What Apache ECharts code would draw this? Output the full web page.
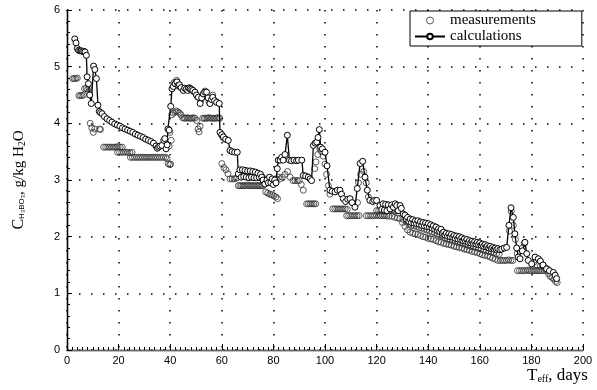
<!DOCTYPE html>
<html><head><meta charset="utf-8">
<script src="https://cdn.jsdelivr.net/npm/echarts@6/dist/echarts.min.js"></script>
<style>html,body{margin:0;padding:0;background:#fff}#c{width:597px;height:390px}</style>
</head><body><div id="c"></div>
<script>
const xTicks = [0, 20, 40, 60, 80, 100, 120, 140, 160, 180, 200];
const yTicks = [0, 1, 2, 3, 4, 5, 6];
const seriesNames = ['measurements', 'calculations'];

// calculations: [day, g/kg]
const calculations = [
[3.0,5.49],[3.5,5.42],[4.0,5.32],[4.5,5.29],[5.0,5.28],[5.5,5.28],[6.0,5.27],[6.5,5.27],[7.0,5.26],[7.5,5.20],
[7.8,4.82],[8.3,4.70],[8.8,4.50],[9.4,4.35],[10.3,5.01],[10.8,4.95],[11.4,4.79],[12.0,4.32],[12.5,4.21],[13.0,4.19],
[13.6,4.17],[14.5,4.12],[15.5,4.08],[16.5,4.05],[17.4,4.02],[18.5,3.99],[19.5,3.97],[20.5,3.95],[21.5,3.92],[22.5,3.90],
[23.5,3.88],[24.5,3.86],[25.5,3.84],[26.5,3.81],[27.5,3.79],[28.5,3.77],[29.5,3.75],[30.5,3.72],[31.5,3.70],[32.5,3.68],
[33.5,3.65],[34.5,3.60],[35.0,3.56],[35.5,3.58],[36.0,3.60],[36.8,3.61],[37.5,3.70],[37.9,3.73],[38.4,3.55],[38.8,3.62],
[39.1,3.90],[39.6,3.88],[40.2,4.30],[40.7,4.61],[41.2,4.65],[41.9,4.70],[42.6,4.73],[43.1,4.67],[43.6,4.68],[44.2,4.63],
[45.1,4.58],[45.6,4.62],[46.2,4.60],[46.8,4.58],[47.2,4.62],[47.7,4.61],[48.3,4.60],[48.8,4.58],[49.6,4.55],[50.2,4.50],
[50.9,4.46],[51.6,4.35],[52.2,4.45],[52.8,4.52],[53.4,4.55],[54.1,4.55],[54.7,4.45],[55.4,4.35],[56.0,4.42],[56.5,4.46],
[57.2,4.40],[58.0,4.37],[59.0,4.35],[59.3,3.84],[60.0,3.80],[60.6,3.76],[61.5,3.72],[62.5,3.70],[63.2,3.52],[64.0,3.50],
[65.0,3.49],[66.0,3.49],[66.4,3.11],[67.0,3.18],[67.5,3.05],[68.0,3.18],[68.5,3.06],[69.0,3.17],[69.5,3.05],[70.0,3.16],
[70.5,3.04],[71.0,3.16],[71.5,3.05],[72.0,3.15],[72.5,3.04],[73.0,3.14],[73.5,3.04],[74.0,3.12],[74.5,3.05],[75.0,3.10],
[75.5,3.05],[76.0,3.00],[76.7,2.93],[77.5,3.00],[78.0,2.95],[78.5,3.05],[79.0,2.95],[79.5,3.02],[80.0,2.92],[80.5,3.00],
[81.0,2.95],[81.5,3.20],[81.9,3.35],[82.6,3.35],[83.2,3.40],[83.8,3.35],[84.5,3.45],[85.4,3.79],[86.2,3.35],[87.0,3.34],
[88.0,3.35],[89.0,3.34],[89.7,3.35],[91.0,3.35],[91.6,3.08],[92.5,3.07],[93.5,3.05],[94.2,3.02],[94.8,2.99],[95.5,3.61],
[96.2,3.65],[96.8,3.67],[97.3,3.75],[97.8,3.89],[98.3,3.58],[99.0,3.55],[100.0,3.49],[100.8,3.25],[101.9,2.82],[102.8,2.80],
[103.9,2.79],[104.8,2.82],[105.8,2.82],[106.4,2.75],[107.1,2.67],[108.0,2.62],[108.8,2.66],[109.7,2.67],[110.5,2.60],[111.6,2.52],
[112.5,2.85],[113.6,3.29],[114.6,3.33],[115.5,3.05],[116.4,2.82],[117.4,2.64],[118.5,2.62],[119.2,2.64],[120.0,2.64],[121.3,2.55],
[122.0,2.48],[122.5,2.58],[123.0,2.47],[123.5,2.57],[124.0,2.46],[124.5,2.56],[125.2,2.49],[125.8,2.56],[126.5,2.52],[127.2,2.58],
[127.8,2.55],[128.4,2.46],[129.1,2.55],[129.6,2.50],[130.3,2.40],[131.0,2.38],[131.5,2.31],[132.0,2.34],[132.5,2.27],[133.0,2.31],
[133.5,2.25],[134.0,2.30],[134.5,2.24],[135.0,2.28],[135.5,2.23],[136.0,2.28],[136.5,2.22],[137.0,2.26],[137.5,2.20],[138.0,2.25],
[138.5,2.19],[139.0,2.24],[139.5,2.18],[140.0,2.23],[140.5,2.17],[141.0,2.21],[141.5,2.15],[142.0,2.19],[142.5,2.13],[143.0,2.17],
[143.5,2.11],[144.0,2.14],[144.5,2.09],[145.0,2.13],[145.5,2.06],[146.0,2.08],[146.5,2.03],[147.0,2.06],[147.5,2.01],[148.0,2.05],
[148.5,2.00],[149.0,2.04],[149.5,1.99],[150.0,2.02],[150.5,1.97],[151.0,2.01],[151.5,1.96],[152.0,2.00],[152.5,1.95],[153.0,1.98],
[153.5,1.93],[154.0,1.96],[154.5,1.92],[155.0,1.95],[155.5,1.90],[156.0,1.93],[156.5,1.89],[157.0,1.92],[157.5,1.88],[158.0,1.91],
[158.5,1.87],[159.0,1.90],[159.5,1.86],[160.0,1.89],[160.5,1.85],[161.0,1.87],[161.5,1.83],[162.0,1.86],[162.5,1.82],[163.0,1.84],
[163.5,1.80],[164.0,1.83],[164.5,1.79],[165.0,1.81],[165.5,1.78],[166.0,1.80],[166.5,1.77],[167.0,1.79],[167.8,1.77],[168.5,1.78],
[169.5,1.80],[170.4,1.81],[171.3,2.20],[172.1,2.51],[173.0,2.34],[173.6,2.05],[174.3,1.80],[174.9,1.64],[175.6,1.61],[176.5,1.75],
[177.5,1.90],[178.2,1.70],[178.8,1.58],[180.1,1.52],[181.4,1.64],[182.7,1.61],[183.5,1.57],[184.5,1.50],[185.9,1.43],[187.0,1.40],
[188.5,1.37],[189.2,1.32],[189.8,1.26]
];

// measurements: [day, g/kg]
const measurements = [
[2.2,4.79],[2.8,4.79],[3.4,4.79],[4.0,4.80],[4.6,4.49],[5.2,4.49],[5.8,4.49],[6.4,4.50],[6.8,4.61],[7.4,4.62],[8.0,4.60],[8.6,4.61],
[9.0,4.00],[9.6,3.92],[10.2,3.84],[10.8,3.90],[12.6,3.90],[13.0,3.89],
[14.2,3.58],[15.0,3.58],[15.8,3.58],[16.6,3.58],[17.4,3.58],[18.2,3.58],[19.0,3.58],[19.8,3.59],[20.6,3.58],[21.4,3.58],
[19.6,3.49],[20.4,3.49],[21.2,3.49],[22.0,3.49],[22.8,3.49],[23.6,3.49],[24.4,3.48],[25.2,3.49],
[24.6,3.40],[25.4,3.40],[26.2,3.40],[27.0,3.40],[27.8,3.40],[28.6,3.40],[29.4,3.40],[30.2,3.40],[31.0,3.40],[31.8,3.40],
[32.6,3.40],[33.4,3.40],[34.2,3.40],[35.0,3.40],[35.8,3.40],[36.6,3.40],[37.4,3.40],[38.2,3.40],[38.8,3.38],
[39.2,3.29],[39.8,3.27],[40.2,3.28],[40.4,3.70],[39.6,3.60],[39.9,3.84],
[40.6,4.15],[41.2,4.18],[41.8,4.20],[42.4,4.22],[43.0,4.20],[43.6,4.18],[44.2,4.15],[44.8,4.10],[45.4,4.09],[46.0,4.09],
[46.6,4.10],[47.2,4.09],[47.8,4.09],[48.4,4.09],[49.0,4.10],[49.6,4.09],[50.2,4.05],[50.8,3.90],[51.2,3.85],[51.6,3.95],
[52.6,4.09],[53.2,4.09],[53.8,4.09],[54.4,4.09],[55.0,4.10],[55.6,4.09],[56.2,4.09],[56.8,4.09],[57.4,4.09],[58.0,4.09],
[58.6,4.10],[59.2,4.09],
[41.5,4.72],[42.5,4.76],[43.5,4.65],[44.5,4.62],[46.0,4.61],[47.5,4.63],[49.0,4.56],[50.5,4.47],[51.8,4.40],[53.5,4.57],
[55.0,4.38],[56.5,4.50],[58.0,4.38],
[59.8,3.80],[60.5,3.75],[61.3,3.72],[60.0,3.29],[60.8,3.22],[61.6,3.18],[62.4,3.11],[63.2,3.02],[64.0,3.02],[64.8,3.02],[65.6,3.03],
[66.4,2.90],[67.0,2.90],[67.6,2.90],[68.2,2.90],[68.8,2.90],[69.4,2.90],[70.0,2.91],[70.6,2.90],[71.2,2.90],[71.8,2.90],
[72.4,2.90],[73.0,2.90],[73.6,2.90],[74.2,2.90],[74.8,2.90],[75.4,2.90],[76.0,2.90],
[66.8,3.10],[67.8,3.12],[68.8,3.10],[69.8,3.12],[70.8,3.10],[71.8,3.12],[72.8,3.10],[73.8,3.08],[74.8,3.10],[75.8,3.05],
[77.0,2.79],[77.8,2.77],[78.6,2.75],[79.4,2.74],[80.2,2.72],[81.0,2.70],[81.6,2.67],
[79.0,3.00],[80.0,2.98],[81.0,3.02],[82.0,3.05],
[82.6,3.02],[83.5,3.05],[84.5,3.10],[85.5,3.15],[86.5,3.05],[87.6,2.99],[88.4,2.99],[89.2,2.99],[90.0,2.99],[90.8,2.92],[91.6,2.82],
[92.9,2.58],[93.6,2.58],[94.3,2.58],[95.0,2.58],[95.7,2.58],[96.4,2.58],
[96.0,3.20],[96.5,3.32],[97.2,3.45],[98.0,3.55],[98.6,3.50],[99.3,3.42],[100.0,3.28],[100.6,3.10],[101.3,2.90],[101.9,2.75],
[103.0,2.49],[103.8,2.49],[104.6,2.49],[105.4,2.49],[106.2,2.49],[107.0,2.49],[107.8,2.49],[108.6,2.48],
[108.4,2.37],[109.2,2.37],[110.0,2.37],[110.8,2.37],[111.6,2.37],[112.4,2.37],[113.2,2.37],
[112.6,2.60],[113.0,2.95],[113.8,3.10],[115.0,3.15],[116.0,2.95],[116.8,2.70],
[116.0,2.37],[116.8,2.37],[117.6,2.37],[118.4,2.37],[119.2,2.37],[120.0,2.38],[120.8,2.37],[121.6,2.37],[122.4,2.37],
[123.2,2.37],[124.0,2.37],[124.8,2.36],
[120.0,2.46],[120.8,2.46],[121.6,2.46],[122.4,2.46],[123.2,2.46],[124.0,2.46],[124.8,2.46],[125.6,2.46],[126.4,2.46],
[127.2,2.45],[128.0,2.46],
[126.0,2.36],[127.0,2.34],[128.0,2.33],[129.0,2.32],[130.0,2.25],[131.0,2.18],[132.0,2.12],[133.0,2.08],[134.0,2.06],
[135.0,2.05],[136.0,2.04],[137.0,2.02],[138.0,2.00],[139.0,1.99],[140.0,1.97],[141.0,1.96],[142.0,1.95],[143.0,1.93],
[144.0,1.91],[145.0,1.90],[146.0,1.88],[147.0,1.87],[148.0,1.86],[149.0,1.85],[150.0,1.83],[151.0,1.82],[152.0,1.81],
[153.0,1.80],[154.0,1.78],[155.0,1.77],[156.0,1.76],[157.0,1.74],[158.0,1.73],[159.0,1.72],[160.0,1.70],[161.0,1.68],
[162.0,1.67],[163.0,1.66],[164.0,1.64],[165.0,1.62],[166.0,1.60],[167.0,1.58],
[130.5,2.30],[131.5,2.26],[132.5,2.22],[133.5,2.20],[134.5,2.19],[135.5,2.18],[136.5,2.16],[137.5,2.15],[138.5,2.13],
[139.5,2.12],[140.5,2.10],[141.5,2.08],[142.5,2.07],[143.5,2.05],[144.5,2.03],[145.5,2.01],[146.5,1.98],[147.5,1.96],
[148.5,1.95],[149.5,1.93],[150.5,1.92],[151.5,1.91],[152.5,1.89],[153.5,1.88],[154.5,1.86],[155.5,1.85],[156.5,1.83],
[157.5,1.82],[158.5,1.81],[159.5,1.79],[160.5,1.78],[161.5,1.77],[162.5,1.75],[163.5,1.74],[164.5,1.73],[165.5,1.72],
[166.5,1.70],[167.5,1.69],
[168.0,1.58],[168.8,1.58],[169.6,1.58],[170.4,1.58],[171.2,1.59],[172.0,1.58],[172.8,1.58],
[171.5,2.10],[172.2,2.45],[173.0,2.20],[173.8,1.95],[174.5,1.70],
[174.6,1.40],[175.4,1.40],[176.2,1.40],[177.0,1.40],[177.8,1.40],[178.6,1.41],[179.4,1.40],[180.2,1.40],[181.0,1.40],
[181.8,1.40],[182.6,1.40],[183.4,1.40],[184.2,1.40],[185.0,1.40],[185.8,1.40],
[176.5,1.80],[177.2,1.88],[181.0,1.55],[182.2,1.50],[183.5,1.48],[184.6,1.46],[185.6,1.45],[186.5,1.42],
[186.6,1.35],[187.3,1.30],[188.0,1.28],[188.7,1.25],[189.4,1.21],[190.0,1.19]
];

const chart = echarts.init(document.getElementById('c'), null, {renderer: 'canvas'});
const labelFont = {fontFamily: 'Liberation Sans', fontSize: 11, color: '#000'};
const gridDots = {show: true, lineStyle: {color: '#000', width: 1.5, type: [1.5, 10.5]}};
chart.setOption({
  animation: false,
  backgroundColor: '#fff',
  grid: {left: 67, right: 14, top: 10, bottom: 40, containLabel: false},
  legend: {
    data: [{name: seriesNames[0], itemStyle: {borderWidth: 1}}, {name: seriesNames[1]}],
    orient: 'vertical', left: 410, top: 11,
    backgroundColor: '#fff', borderColor: '#000', borderWidth: 1,
    padding: [2, 46, 2, 4], itemGap: 1, itemWidth: 30, itemHeight: 7,
    textStyle: {fontFamily: 'Liberation Serif', fontSize: 15, color: '#000'}
  },
  xAxis: [{
    type: 'value', min: xTicks[0], max: xTicks[xTicks.length - 1], interval: 20,
    axisLine: {onZero: false, lineStyle: {color: '#000', width: 1.3}},
    axisTick: {inside: true, length: 6, lineStyle: {color: '#000'}},
    minorTick: {show: true, splitNumber: 10, length: 3, lineStyle: {color: '#000'}},
    axisLabel: Object.assign({margin: 5}, labelFont),
    splitLine: gridDots
  }, {
    type: 'value', position: 'top', min: 0, max: 200,
    axisLine: {show: true, lineStyle: {color: '#666', width: 1}},
    axisTick: {show: false}, axisLabel: {show: false}, splitLine: {show: false}
  }],
  yAxis: [{
    type: 'value', min: yTicks[0], max: yTicks[yTicks.length - 1], interval: 1,
    axisLine: {show: true, onZero: false, lineStyle: {color: '#000', width: 1.3}},
    axisTick: {inside: true, length: 5, lineStyle: {color: '#000'}},
    minorTick: {show: true, splitNumber: 5, length: 3, lineStyle: {color: '#000'}},
    axisLabel: Object.assign({margin: 7}, labelFont),
    splitLine: gridDots,
    name: '{c|C}{s|H₃BO₃}{n|, g/kg H}{s2|2}{n|O}',
    nameLocation: 'middle', nameRotate: 90, nameGap: 40,
    nameTextStyle: {
      rich: {
        c: {fontFamily: 'Liberation Serif', fontSize: 16, color: '#000'},
        n: {fontFamily: 'Liberation Serif', fontSize: 15, color: '#000'},
        s: {fontFamily: 'Liberation Sans', fontSize: 8, color: '#000', padding: [6, 0, 0, 0]},
        s2: {fontFamily: 'Liberation Serif', fontSize: 10, color: '#000', padding: [6, 0, 0, 0]}
      }
    }
  }, {
    type: 'value', position: 'right', min: 0, max: 6,
    axisLine: {show: true, lineStyle: {color: '#000', width: 1.3}},
    axisTick: {show: false}, axisLabel: {show: false}, splitLine: {show: false}
  }],
  graphic: [{
    type: 'text', left: 527, top: 367,
    style: {
      text: '{t|T}{s|eff}{t|, days}',
      rich: {
        t: {fontFamily: 'Liberation Serif', fontSize: 17, fill: '#000'},
        s: {fontFamily: 'Liberation Serif', fontSize: 10, fill: '#000', padding: [8, 0, 0, 0]}
      }
    }
  }],
  series: [{
    name: seriesNames[0], type: 'scatter', data: measurements,
    symbol: 'circle', symbolSize: 6,
    itemStyle: {color: 'rgba(255,255,255,0)', borderColor: '#333', borderWidth: 1},
    z: 2
  }, {
    name: seriesNames[1], type: 'line', data: calculations,
    symbol: 'circle', symbolSize: 6, showAllSymbol: true,
    lineStyle: {color: '#000', width: 1.3},
    itemStyle: {color: '#fff', borderColor: '#000', borderWidth: 1},
    z: 3
  }]
});
</script></body></html>
